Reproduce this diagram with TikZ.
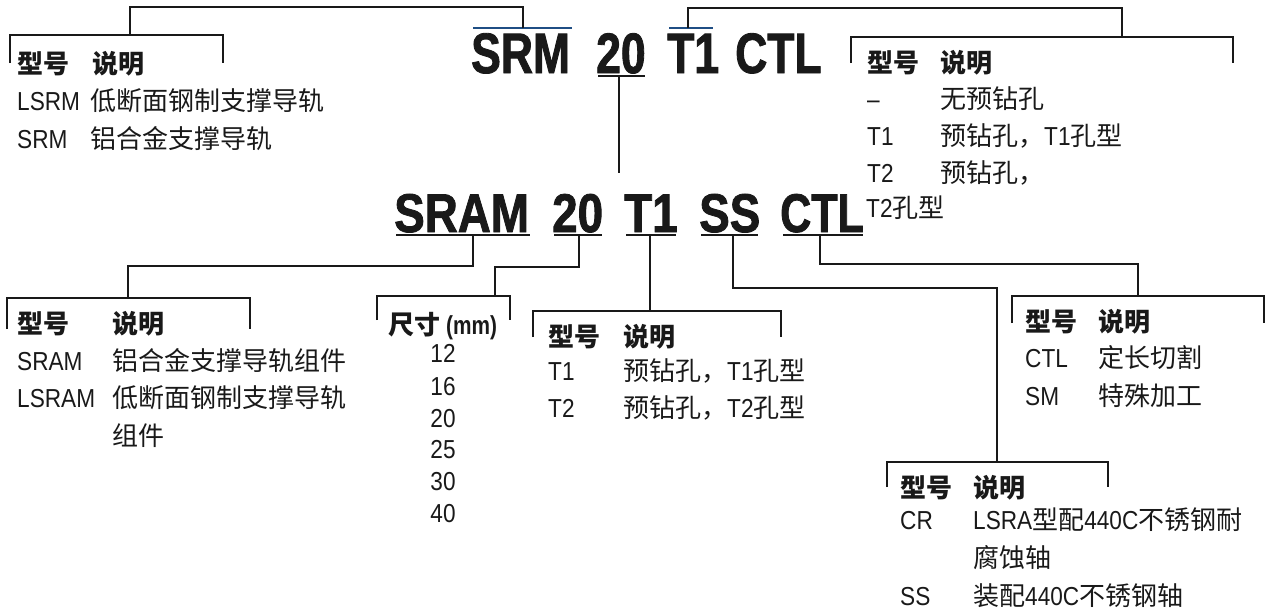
\documentclass[tikz,border=0pt]{standalone}
\usepackage{fontspec}
\setmainfont{Liberation Sans}
\newfontfamily\lat[FakeStretch=0.87]{Liberation Sans}
\newfontfamily\cjk{Noto Sans CJK SC}
\newfontfamily\tfa[FakeStretch=0.78,FakeBold=1.5]{Liberation Sans}
\newfontfamily\tfb[FakeStretch=0.84,FakeBold=1.5]{Liberation Sans}
\newfontfamily\tfc[FakeStretch=0.79,FakeBold=1.5]{Liberation Sans}
\newfontfamily\mmf[FakeStretch=0.80]{Liberation Sans}
\newcommand\zh[1]{{\cjk #1}}
\definecolor{ovblue}{HTML}{1F4E84}
\begin{document}
\begin{tikzpicture}[x=1pt,y=-1pt,
  conn/.style={draw=black!90, line width=2pt},
  ovl/.style={draw=ovblue, line width=2pt},
  ul/.style={draw=black!90, line width=2pt},
  txt/.style={anchor=base west, inner sep=0pt, text=black!90, font=\lat\fontsize{26}{30}\selectfont},
  num/.style={anchor=base, inner sep=0pt, text=black!90, font=\lat\fontsize{26}{30}\selectfont},
  hdr/.style={anchor=base west, inner sep=0pt, text=black!90, font=\cjk\bfseries\fontsize{26}{30}\selectfont},
  ttla/.style={anchor=base west, inner sep=0pt, text=black!90, font=\tfa\bfseries\fontsize{57}{60}\selectfont},
  ttlb/.style={anchor=base west, inner sep=0pt, text=black!90, font=\tfb\bfseries\fontsize{54.5}{58}\selectfont},
  ttlc/.style={anchor=base west, inner sep=0pt, text=black!90, font=\tfc\bfseries\fontsize{54.5}{58}\selectfont}]
\useasboundingbox (0,0) rectangle (1265,613);

% ---------- top title ----------
\node[ttla] (srmT) at (471,73) {SRM};
\node[ttla] (d20T) at (596,73) {20};
\node[ttla] (t1T)  at (667,73) {T1};
\node[ttla] (ctlT) at (735,73) {CTL};
\draw[ovl] (473,28) -- (572,28);
\draw[ovl] (669,28) -- (713,28);
\draw[ul] (598,76) -- (645,76);

% ---------- second title ----------
\node[ttlb] (sram) at (394,232) {SRAM};
\node[ttlb] (d20)  at (552,232) {20};
\node[ttlb] (t1)   at (624,232) {T1};
\node[ttlb] (ss)   at (699,232) {SS};
\node[ttlc] (ctl)  at (780,232) {CTL};
\draw[ul] (396,235) -- (530,235);
\draw[ul] (554,235) -- (602,235);
\draw[ul] (626,235) -- (676,235);
\draw[ul] (701,235) -- (758,235);
\draw[ul] (783,235) -- (863,235);

% ---------- connector anchor points ----------
\coordinate (srmTop) at (523,28);
\coordinate (t1Top)  at (688,28);
\coordinate (d20Bot) at (619,77);
\coordinate (d20Land) at (619,173);
\coordinate (brTL) at (130,35);
\coordinate (brTR) at (1122,37);
\coordinate (sramB) at (473,236);
\coordinate (d20B) at (579,236);
\coordinate (t1B) at (650,236);
\coordinate (ssB) at (733,236);
\coordinate (ctlB) at (820,236);
\coordinate (brBL) at (128,298);
\coordinate (brSZ) at (495,296);
\coordinate (brT1) at (650,311);
\coordinate (brSS) at (997,462);
\coordinate (brCT) at (1138,296);

% ---------- connectors ----------
\draw[conn] (srmTop) -- (523,7) -| (brTL);
\draw[conn] (t1Top) -- (688,8) -| (brTR);
\draw[conn] (d20Bot) -- (d20Land);
\draw[conn] (sramB) -- (473,266) -| (brBL);
\draw[conn] (d20B) -- (579,267) -| (brSZ);
\draw[conn] (t1B) -- (brT1);
\draw[conn] (ssB) -- (733,288) -| (brSS);
\draw[conn] (ctlB) -- (820,264) -| (brCT);

% ---------- brackets ----------
\draw[conn] (10,63) -- (10,35) -- (223,35) -- (223,63);
\draw[conn] (851,63) -- (851,37) -- (1233,37) -- (1233,63);
\draw[conn] (7,329) -- (7,298) -- (250,298) -- (250,329);
\draw[conn] (377,320) -- (377,296) -- (510,296) -- (510,320);
\draw[conn] (533,337) -- (533,311) -- (781,311) -- (781,337);
\draw[conn] (887,487) -- (887,462) -- (1108,462) -- (1108,487);
\draw[conn] (1012,323) -- (1012,296) -- (1264,296) -- (1264,323);

% ---------- top-left table ----------
\node[hdr] (tlh1) at (17,73) {型号};
\node[hdr] (tlh2) at (92,73) {说明};
\node[txt] (tlc1) at (17,110) {LSRM};
\node[txt] (tld1) at (90,110) {\zh{低断面钢制支撑导轨}};
\node[txt] (tlc2) at (17,148) {SRM};
\node[txt] (tld2) at (90,148) {\zh{铝合金支撑导轨}};

% ---------- top-right table ----------
\node[hdr] (trh1) at (867,72) {型号};
\node[hdr] (trh2) at (940,72) {说明};
\node[txt] (trc1) at (867,108) {–};
\node[txt] (trd1) at (940,108) {\zh{无预钻孔}};
\node[txt] (trc2) at (867,145) {T1};
\node[txt] (trd2) at (940,145) {\zh{预钻孔，}T1\zh{孔型}};
\node[txt] (trc3) at (867,182) {T2};
\node[txt] (trd3) at (940,182) {\zh{预钻孔，}};
\node[txt] (trd3b) at (866,217) {T2\zh{孔型}};

% ---------- bottom-left table ----------
\node[hdr] (blh1) at (17,333) {型号};
\node[hdr] (blh2) at (112,333) {说明};
\node[txt] (blc1) at (17,370) {SRAM};
\node[txt] (bld1) at (112,370) {\zh{铝合金支撑导轨组件}};
\node[txt] (blc2) at (17,407) {LSRAM};
\node[txt] (bld2) at (112,407) {\zh{低断面钢制支撑导轨}};
\node[txt] (bld2b) at (112,445) {\zh{组件}};

% ---------- size table ----------
\node[hdr] (szh) at (388,334) {尺寸 {\mmf\bfseries (mm)}};
\node[num] (sz1) at (443,362) {12};
\node[num] (sz2) at (443,395) {16};
\node[num] (sz3) at (443,427) {20};
\node[num] (sz4) at (443,458) {25};
\node[num] (sz5) at (443,490) {30};
\node[num] (sz6) at (443,522) {40};

% ---------- T1 table ----------
\node[hdr] (t1h1) at (548,346) {型号};
\node[hdr] (t1h2) at (623,346) {说明};
\node[txt] (t1c1) at (548,380) {T1};
\node[txt] (t1d1) at (623,380) {\zh{预钻孔，}T1\zh{孔型}};
\node[txt] (t1c2) at (548,417) {T2};
\node[txt] (t1d2) at (623,417) {\zh{预钻孔，}T2\zh{孔型}};

% ---------- CTL table ----------
\node[hdr] (cth1) at (1025,331) {型号};
\node[hdr] (cth2) at (1098,331) {说明};
\node[txt] (ctc1) at (1025,367) {CTL};
\node[txt] (ctd1) at (1098,367) {\zh{定长切割}};
\node[txt] (ctc2) at (1025,405) {SM};
\node[txt] (ctd2) at (1098,405) {\zh{特殊加工}};

% ---------- SS table ----------
\node[hdr] (ssh1) at (900,497) {型号};
\node[hdr] (ssh2) at (973,497) {说明};
\node[txt] (ssc1) at (900,529) {CR};
\node[txt] (ssd1) at (973,529) {LSRA\zh{型配}440C\zh{不锈钢耐}};
\node[txt] (ssd1b) at (973,567) {\zh{腐蚀轴}};
\node[txt] (ssc2) at (900,605) {SS};
\node[txt] (ssd2) at (973,605) {\zh{装配}440C\zh{不锈钢轴}};
\end{tikzpicture}
\end{document}
